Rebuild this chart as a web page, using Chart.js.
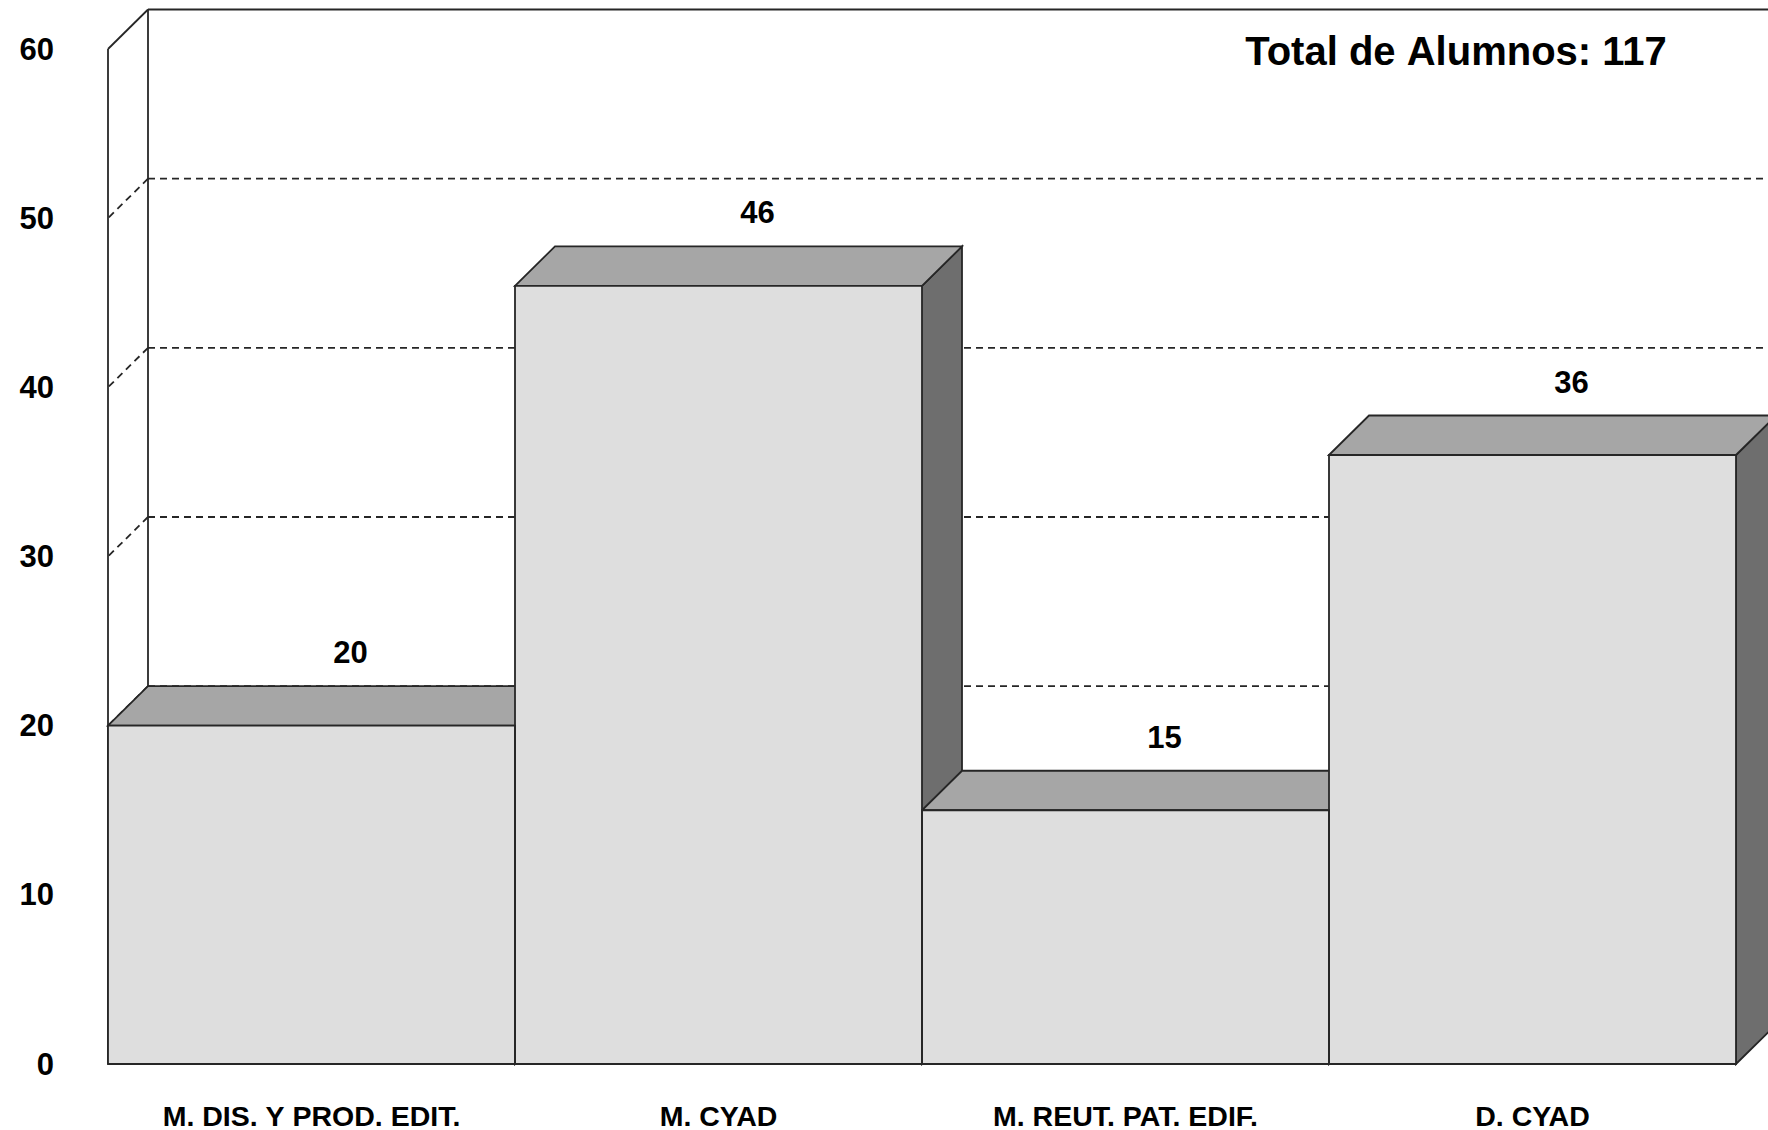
<!DOCTYPE html>
<html>
<head>
<meta charset="utf-8">
<style>html,body{margin:0;padding:0;background:#fff;overflow:hidden}canvas{display:block}</style>
<script src="https://cdn.jsdelivr.net/npm/chart.js@4/dist/chart.umd.min.js"></script>
</head>
<body>
<canvas id="c" width="1768" height="1130"></canvas>
<script>
const categories = ["M. DIS. Y PROD. EDIT.", "M. CYAD", "M. REUT. PAT. EDIF.", "D. CYAD"];
const alumnos = [20, 46, 15, 36];
const titleText = "Total de Alumnos: 117";
const FONT = '"Liberation Sans", Arial, sans-serif';
const DX = 40, DY = 39.5, INK = '#262626', LW = 1.8;

function poly(ctx, pts, fill) {
  ctx.beginPath();
  pts.forEach((p, i) => i ? ctx.lineTo(p[0], p[1]) : ctx.moveTo(p[0], p[1]));
  ctx.closePath();
  if (fill) { ctx.fillStyle = fill; ctx.fill(); }
  ctx.stroke();
}
function seg(ctx, a, b, c, d) { ctx.beginPath(); ctx.moveTo(a, b); ctx.lineTo(c, d); ctx.stroke(); }

const threeD = {
  id: 'threeD',
  beforeDraw(chart) {
    const { ctx, width, height } = chart;
    ctx.save(); ctx.fillStyle = '#fff'; ctx.fillRect(0, 0, width, height); ctx.restore();
  },
  beforeDatasetsDraw(chart) {
    const { ctx, chartArea: a, scales: { y } } = chart;
    ctx.save();
    ctx.strokeStyle = INK; ctx.lineWidth = LW;
    // back wall grid
    y.ticks.forEach(t => {
      const py = y.getPixelForValue(t.value);
      if (t.value > 0 && t.value < 60) {
        ctx.setLineDash([7, 5]);
        seg(ctx, a.left + DX, py - DY, chart.width, py - DY);
        seg(ctx, a.left + DX, py - DY, a.left, py);
        ctx.setLineDash([]);
      }
    });
    // walls
    const top = y.getPixelForValue(60), base = y.getPixelForValue(0);
    seg(ctx, a.left, base, a.left, top);
    seg(ctx, a.left, top, a.left + DX, top - DY);
    seg(ctx, a.left + DX, top - DY, a.left + DX, base - DY);
    seg(ctx, a.left + DX, top - DY, chart.width, top - DY);
    // bar top and side faces
    chart.getDatasetMeta(0).data.forEach(b => {
      const l = b.x - b.width / 2, r = b.x + b.width / 2;
      poly(ctx, [[r, b.y], [r + DX, b.y - DY], [r + DX, b.base - DY], [r, b.base]], '#6e6e6e');
      poly(ctx, [[l, b.y], [l + DX, b.y - DY], [r + DX, b.y - DY], [r, b.y]], '#a6a6a6');
    });
    ctx.restore();
  },
  afterDatasetsDraw(chart) {
    const { ctx, scales: { y } } = chart;
    ctx.save();
    // front outlines
    ctx.strokeStyle = INK; ctx.lineWidth = LW;
    chart.getDatasetMeta(0).data.forEach(b => {
      const l = b.x - b.width / 2, r = b.x + b.width / 2;
      poly(ctx, [[l, b.y], [r, b.y], [r, b.base], [l, b.base]]);
    });
    ctx.fillStyle = '#000';
    ctx.textBaseline = 'middle';
    ctx.font = 'bold 31px ' + FONT;
    // value-axis labels
    ctx.textAlign = 'right';
    y.ticks.forEach(t => {
      ctx.fillText(String(t.value), 54, y.getPixelForValue(t.value) + 2);
    });
    // value labels
    ctx.textAlign = 'center';
    chart.getDatasetMeta(0).data.forEach((b, i) => {
      ctx.fillText(String(alumnos[i]), b.x + DX - 1, b.y - DY - 31.5);
    });
    ctx.font = 'bold 40px ' + FONT;
    ctx.fillText(titleText, 1456, 53.5);
    ctx.restore();
  }
};

const canvas = document.getElementById('c');
canvas.getContext('2d', { alpha: false });
new Chart(canvas, {
  type: 'bar',
  data: {
    labels: categories,
    datasets: [{
      data: alumnos,
      backgroundColor: '#dedede',
      borderWidth: 0,
      barPercentage: 1,
      categoryPercentage: 1
    }]
  },
  options: {
    responsive: false,
    animation: false,
    devicePixelRatio: 1,
    layout: { padding: { top: 49, right: 32, left: 0, bottom: 0 } },
    plugins: { legend: { display: false }, tooltip: { enabled: false }, title: { display: false } },
    scales: {
      x: {
        grid: { display: false, drawTicks: false },
        border: { display: false },
        ticks: { color: '#000', font: { family: FONT, size: 28.5, weight: 'bold' }, padding: 37, maxRotation: 0, autoSkip: false },
        afterFit(s) { s.height = 66; s.paddingLeft = 0; s.paddingRight = 0; }
      },
      y: {
        min: 0, max: 60,
        grid: { display: false, drawTicks: false },
        border: { display: false },
        ticks: { display: false, stepSize: 10 },
        afterFit(s) { s.width = 108; s.paddingTop = 0; s.paddingBottom = 0; }
      }
    }
  },
  plugins: [threeD]
});
</script>
</body>
</html>
